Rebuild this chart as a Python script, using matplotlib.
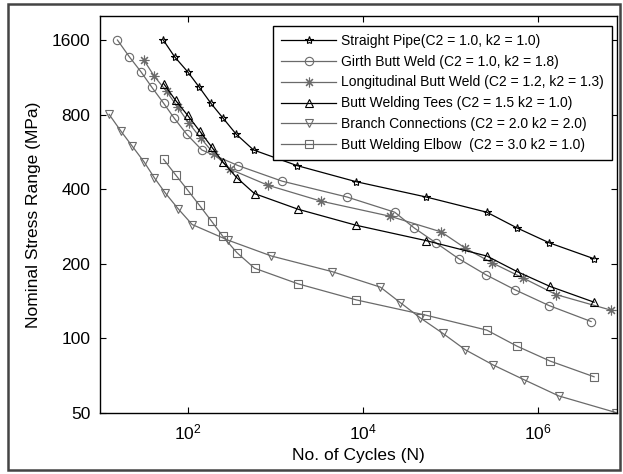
import matplotlib
matplotlib.use("Agg")
import matplotlib.pyplot as plt
from matplotlib.patches import Rectangle

plt.rcParams['font.family'] = ['Liberation Sans', 'DejaVu Sans']
plt.rcParams['mathtext.fontset'] = 'custom'
plt.rcParams['mathtext.rm'] = 'Liberation Sans'
plt.rcParams['mathtext.it'] = 'Liberation Sans'

# ---- data ----
pipe_N = [52.8, 71, 100, 136, 184, 255, 359, 566, 1782, 8390, 53100, 2.61e5, 5.79e5, 1.35e6, 4.38e6]
pipe_S = [1600, 1370, 1192, 1032, 890, 773, 667, 576, 498, 429, 372, 323, 279, 243, 209.6]

girth_N = [15.8, 21.6, 29.3, 39.2, 53.2, 70.5, 98, 145.6, 378, 1202, 6620, 23200, 38700,
           68500, 1.24e5, 2.55e5, 5.5e5, 1.34e6, 4.05e6]
girth_S = [1600, 1370, 1192, 1030, 890, 773, 666, 576, 498, 431, 372, 323, 279,
           243, 210, 180.6, 157, 135.7, 117]

long_N = [31.8, 41.7, 57.6, 76.9, 102.7, 140.6, 199.5, 304, 827, 3346, 20600, 78700,
          1.49e5, 2.98e5, 6.83e5, 1.61e6, 6.84e6]
long_S = [1325, 1142, 993, 858, 742, 644, 557, 482, 415, 358, 311, 269,
          231, 202, 175, 150.3, 130]

tees_N = [53.2, 73, 100, 137, 188, 253, 365, 581, 1830, 8450, 53100, 2.61e5, 5.79e5, 1.38e6, 4.38e6]
tees_S = [1068, 913, 795, 688, 593, 515, 445, 384, 332, 286, 248, 215, 186, 162, 140]

branch_N = [12.7, 17.4, 23.4, 31.8, 41.7, 55.7, 78.3, 113, 291, 907, 4467, 15900, 26800,
            45400, 81500, 1.48e5, 3.11e5, 7.02e5, 1.73e6, 7.8e6]
branch_S = [802, 685, 596, 516, 445, 386, 333, 288, 249, 215, 186, 161, 139.5,
            121, 105, 90, 78, 68, 58.6, 50.2]

elbow_N = [53.2, 73, 100, 137, 188, 253, 365, 581, 1830, 8450, 53100, 2.61e5, 5.79e5, 1.38e6, 4.38e6]
elbow_S = [528, 457, 397, 344, 297, 258, 222, 192, 166, 143, 124, 108, 93, 81, 70]

labels = [
    "Straight Pipe(C2 = 1.0, k2 = 1.0)",
    "Girth Butt Weld (C2 = 1.0, k2 = 1.8)",
    "Longitudinal Butt Weld (C2 = 1.2, k2 = 1.3)",
    "Butt Welding Tees (C2 = 1.5 k2 = 1.0)",
    "Branch Connections (C2 = 2.0 k2 = 2.0)",
    "Butt Welding Elbow  (C2 = 3.0 k2 = 1.0)",
]

y_ticks = [50, 100, 200, 400, 800, 1600]
x_ticks = [1e2, 1e4, 1e6]

W, H = 623, 474
fig = plt.figure(figsize=(W / 100, H / 100), dpi=100)
ax = fig.add_axes([100 / W, (H - 413) / H, 517 / W, 397 / H])

black = '#000000'
gray = '#6a6a6a'
series = [
    (pipe_N, pipe_S, '*', black, 6.0, 0.9),
    (girth_N, girth_S, 'o', gray, 6.0, 0.9),
    (long_N, long_S, (8, 2, 0), gray, 7.0, 0.9),
    (tees_N, tees_S, '^', black, 6.0, 0.9),
    (branch_N, branch_S, 'v', gray, 6.0, 0.9),
    (elbow_N, elbow_S, 's', gray, 6.0, 0.9),
]
for (xs, ys, m, c, ms, lw), lab in zip(series, labels):
    ax.plot(xs, ys, marker=m, color=c, markerfacecolor='none', markeredgecolor=c,
            markersize=ms, markeredgewidth=0.8, linewidth=lw, label=lab)

ax.set_xscale('log')
ax.set_yscale('log')
ax.set_xlim(10, 8e6)
ax.set_ylim(50, 2000)
ax.set_xticks(x_ticks)
ax.set_yticks(y_ticks)
ax.set_yticklabels([str(v) for v in y_ticks])
ax.minorticks_off()
ax.tick_params(which='both', direction='in', top=True, right=True, length=4,
               width=0.8, labelsize=12.5, pad=7)
for s in ax.spines.values():
    s.set_linewidth(1.0)

ax.set_xlabel("No. of Cycles (N)", fontsize=12.5, labelpad=4)
ax.set_ylabel("Nominal Stress Range (MPa)", fontsize=12.5, labelpad=8)

leg = ax.legend(loc='upper left', bbox_to_anchor=(0.335, 0.975), borderaxespad=0,
                fontsize=10, frameon=True, fancybox=False, framealpha=1,
                edgecolor='black', handlelength=4.0, labelspacing=0.5,
                borderpad=0.55, handletextpad=0.35)
leg.get_frame().set_linewidth(1.0)

fig.patches.append(Rectangle((8 / W, 4 / H), (620 - 8) / W, (470 - 4) / H,
                             transform=fig.transFigure, fill=False,
                             edgecolor='#444444', linewidth=1.8))

fig.savefig("out.png", dpi=100)
